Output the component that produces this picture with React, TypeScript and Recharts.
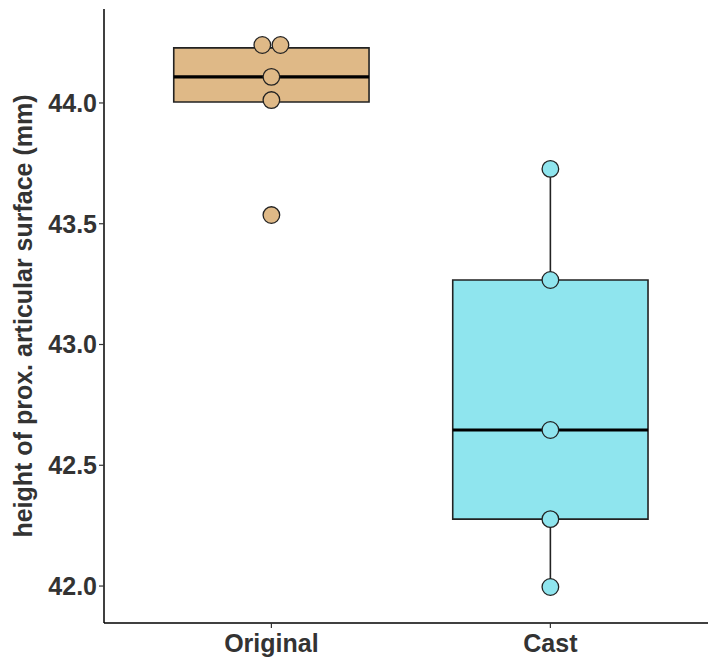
import React from "react";
import { ComposedChart, Scatter, XAxis, YAxis, ReferenceArea, ReferenceLine } from "recharts";

// groups, box statistics and raw points
const groups = ["Original", "Cast"];
const originalPoints = [44.24, 44.24, 44.108, 44.012, 43.536];
const castPoints = [43.727, 43.267, 42.646, 42.277, 41.996];
const boxLower = [44.004, 42.277];
const boxMedian = [44.108, 42.646];
const boxUpper = [44.228, 43.267];
const whiskerLow = [44.004, 41.996];
const whiskerHigh = [44.228, 43.727];
const yTicks = [42.0, 42.5, 43.0, 43.5, 44.0];

const fills = ["#DFB987", "#8FE5EE"];
const font = "'Liberation Sans', Arial, sans-serif";
const halfBox = 0.35;

// spread equal values side by side, like a dot dodge
const dodge = (vals: number[], pos: number) =>
  vals.map((v, i) => {
    const same = vals.filter((w) => w === v).length;
    if (same < 2) return { x: pos, y: v };
    const k = vals.slice(0, i).filter((w) => w === v).length;
    return { x: pos + (k - (same - 1) / 2) * 0.065, y: v };
  });

const pointSets = [dodge(originalPoints, 1), dodge(castPoints, 2)];

const App = () => {
  return (
    <div style={{ position: "absolute", left: 0, top: 0, background: "#fff" }}>
      <ComposedChart width={708} height={661} margin={{ top: 9, right: 0, bottom: 0, left: 0 }}>
        <XAxis
          type="number"
          dataKey="x"
          domain={[0.4, 2.565]}
          ticks={[1, 2]}
          allowDataOverflow
          height={38}
          tickFormatter={(v) => groups[v - 1]}
          tick={{ fill: "#333", fontSize: 25, fontWeight: "bold", fontFamily: font, dy: 4 }}
          axisLine={{ stroke: "#000", strokeWidth: 1.5 }}
          tickLine={{ stroke: "#333", strokeWidth: 1.2 }}
          tickSize={5}
        />
        <YAxis
          type="number"
          dataKey="y"
          domain={[41.847, 44.389]}
          ticks={yTicks}
          allowDataOverflow
          width={104}
          tickFormatter={(v) => v.toFixed(1)}
          tick={{ fill: "#333", fontSize: 25, fontWeight: "bold", fontFamily: font }}
          axisLine={{ stroke: "#000", strokeWidth: 1.5 }}
          tickLine={{ stroke: "#333", strokeWidth: 1.2 }}
          tickSize={5}
          label={{
            value: "height of prox. articular surface (mm)",
            angle: -90,
            position: "insideLeft",
            offset: 23,
            style: { textAnchor: "middle", fill: "#333", fontSize: 25, fontWeight: "bold", fontFamily: font },
          }}
        />
        {groups.map((g, i) => (
          <ReferenceLine
            key={g + "-wl"}
            segment={[
              { x: i + 1, y: whiskerLow[i] },
              { x: i + 1, y: boxLower[i] },
            ]}
            stroke="#222"
            strokeWidth={1.6}
          />
        ))}
        {groups.map((g, i) => (
          <ReferenceLine
            key={g + "-wh"}
            segment={[
              { x: i + 1, y: boxUpper[i] },
              { x: i + 1, y: whiskerHigh[i] },
            ]}
            stroke="#222"
            strokeWidth={1.6}
          />
        ))}
        {groups.map((g, i) => (
          <ReferenceArea
            key={g + "-b"}
            x1={i + 1 - halfBox}
            x2={i + 1 + halfBox}
            y1={boxLower[i]}
            y2={boxUpper[i]}
            fill={fills[i]}
            fillOpacity={1}
            stroke="#222"
            strokeWidth={1.6}
          />
        ))}
        {groups.map((g, i) => (
          <ReferenceLine
            key={g + "-m"}
            segment={[
              { x: i + 1 - halfBox, y: boxMedian[i] },
              { x: i + 1 + halfBox, y: boxMedian[i] },
            ]}
            stroke="#000"
            strokeWidth={3.2}
          />
        ))}
        {groups.map((g, i) => (
          <Scatter
            key={g}
            data={pointSets[i]}
            fill={fills[i]}
            stroke="#222"
            strokeWidth={1.3}
            isAnimationActive={false}
            shape={(p: any) => (
              <circle cx={p.cx} cy={p.cy} r={8.3} fill={fills[i]} stroke="#222" strokeWidth={1.3} />
            )}
          />
        ))}
      </ComposedChart>
    </div>
  );
};

export default App;
